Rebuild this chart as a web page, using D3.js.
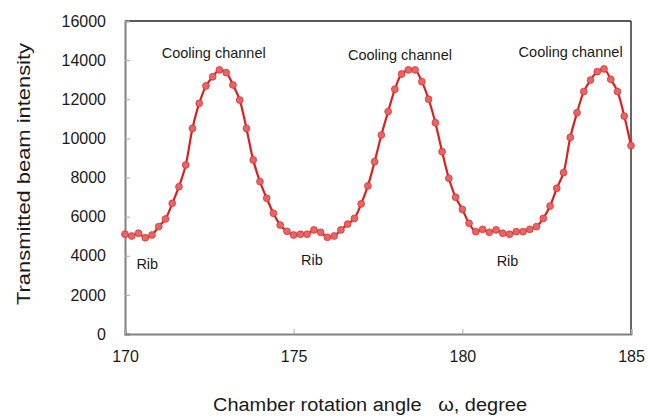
<!DOCTYPE html>
<html>
<head>
<meta charset="utf-8">
<script src="https://cdn.jsdelivr.net/npm/d3@7"></script>
<style>
  body { margin: 0; background: #fff; }
  text { font-family: Arial, "Liberation Sans", sans-serif; fill: #1a1a1a; }
</style>
</head>
<body>
<script>
//chart size
var w = 648, h = 418;
var margin = {top: 21, right: 17, bottom: 84, left: 125};

//angle of each sample, degrees (every 0.2 from 170 to 185)
var angles = [
  170.0, 170.2, 170.4, 170.6, 170.8, 171.0, 171.2, 171.4, 171.6, 171.8,
  172.0, 172.2, 172.4, 172.6, 172.8, 173.0, 173.2, 173.4, 173.6, 173.8,
  174.0, 174.2, 174.4, 174.6, 174.8, 175.0, 175.2, 175.4, 175.6, 175.8,
  176.0, 176.2, 176.4, 176.6, 176.8, 177.0, 177.2, 177.4, 177.6, 177.8,
  178.0, 178.2, 178.4, 178.6, 178.8, 179.0, 179.2, 179.4, 179.6, 179.8,
  180.0, 180.2, 180.4, 180.6, 180.8, 181.0, 181.2, 181.4, 181.6, 181.8,
  182.0, 182.2, 182.4, 182.6, 182.8, 183.0, 183.2, 183.4, 183.6, 183.8,
  184.0, 184.2, 184.4, 184.6, 184.8, 185.0
];

//transmitted beam intensity
var intensity = [
  5100, 5010, 5150, 4920, 5060, 5490, 5880, 6680, 7530, 8640,
  10510, 11790, 12680, 13150, 13500, 13360, 12730, 11960, 10510, 8900,
  7790, 6940, 6170, 5570, 5250, 5060, 5100, 5100, 5320, 5200,
  4940, 5010, 5320, 5620, 5910, 6650, 7570, 8810, 10170, 11370,
  12510, 13290, 13500, 13500, 12900, 12000, 10800, 9320, 7960, 6990,
  6370, 5660, 5230, 5350, 5200, 5320, 5150, 5100, 5230, 5230,
  5350, 5490, 5910, 6540, 7450, 8250, 10050, 11310, 12390, 12980,
  13410, 13550, 13020, 12390, 11140, 9630
];

var xTicks = [170, 175, 180, 185];
var yTicks = [0, 2000, 4000, 6000, 8000, 10000, 12000, 14000, 16000];

//annotations
var notes = [
  {text: "Cooling channel", x: 172.63, y: 14100},
  {text: "Cooling channel", x: 178.15, y: 14000},
  {text: "Cooling channel", x: 183.21, y: 14180},
  {text: "Rib", x: 170.66, y: 3300},
  {text: "Rib", x: 175.54, y: 3530},
  {text: "Rib", x: 181.34, y: 3480}
];

var data = angles.map(function(a, i){
  return {a: a, v: intensity[i]};
});

var svg = d3.select("body")
  .append("svg")
  .attr("width", w)
  .attr("height", h);

var x = d3.scaleLinear()
  .domain([170, 185])
  .range([margin.left, w - margin.right]);

var y = d3.scaleLinear()
  .domain([0, 16000])
  .range([h - margin.bottom, margin.top]);

//frame top and right
svg.append("line")
  .attr("x1", x(170)).attr("x2", x(185))
  .attr("y1", y(16000)).attr("y2", y(16000))
  .style("stroke", "#222").style("stroke-width", 1.5);
svg.append("line")
  .attr("x1", x(185)).attr("x2", x(185))
  .attr("y1", y(16000)).attr("y2", y(0))
  .style("stroke", "#333").style("stroke-width", 1.5);

//y axis, ticks inside
var yAxis = svg.append("g")
  .attr("transform", "translate(" + x(170) + ",0)")
  .call(d3.axisLeft(y).tickValues(yTicks).tickFormat(d3.format("d")).tickSize(-5).tickPadding(19));
yAxis.select(".domain").style("stroke", "#808080").style("stroke-width", 2);
yAxis.selectAll(".tick line").style("stroke", "#aaa");
yAxis.selectAll(".tick text")
  .style("font-size", "16px")
  .style("fill", "#1a1a1a");

//x axis, ticks inside
var xAxis = svg.append("g")
  .attr("transform", "translate(0," + y(0) + ")")
  .call(d3.axisBottom(x).tickValues(xTicks).tickSize(-5).tickPadding(17));
xAxis.select(".domain").style("stroke", "#808080").style("stroke-width", 2);
xAxis.selectAll(".tick line").style("stroke", "#aaa");
xAxis.selectAll(".tick text")
  .style("font-size", "16px")
  .style("fill", "#1a1a1a");

//axis titles
svg.append("text")
  .attr("transform", "translate(30,174) rotate(-90)")
  .attr("text-anchor", "middle")
  .attr("textLength", 262)
  .attr("lengthAdjust", "spacingAndGlyphs")
  .style("font-size", "19px")
  .text("Transmitted beam intensity");

svg.append("text")
  .attr("x", 370)
  .attr("y", 411)
  .attr("text-anchor", "middle")
  .attr("textLength", 314)
  .attr("lengthAdjust", "spacingAndGlyphs")
  .style("font-size", "18px")
  .style("white-space", "pre")
  .text("Chamber rotation angle   \u03c9, degree");

//smoothed line
var line = d3.line()
  .x(function(d){ return x(d.a); })
  .y(function(d){ return y(d.v); })
  .curve(d3.curveCatmullRom.alpha(0.5));

svg.append("path")
  .datum(data)
  .attr("d", line)
  .style("fill", "none")
  .style("stroke", "#dc1f1f")
  .style("stroke-width", 2.2);

//markers
svg.selectAll(".dot")
  .data(data)
  .enter()
  .append("circle")
  .attr("class", "dot")
  .attr("cx", function(d){ return x(d.a); })
  .attr("cy", function(d){ return y(d.v); })
  .attr("r", 3.4)
  .style("fill", "#ea6464")
  .style("stroke", "#d83434")
  .style("stroke-width", 0.8);

//labels
svg.selectAll(".note")
  .data(notes)
  .enter()
  .append("text")
  .attr("class", "note")
  .attr("x", function(d){ return x(d.x); })
  .attr("y", function(d){ return y(d.y); })
  .attr("text-anchor", "middle")
  .style("font-size", "14.5px")
  .text(function(d){ return d.text; });
</script>
</body>
</html>
